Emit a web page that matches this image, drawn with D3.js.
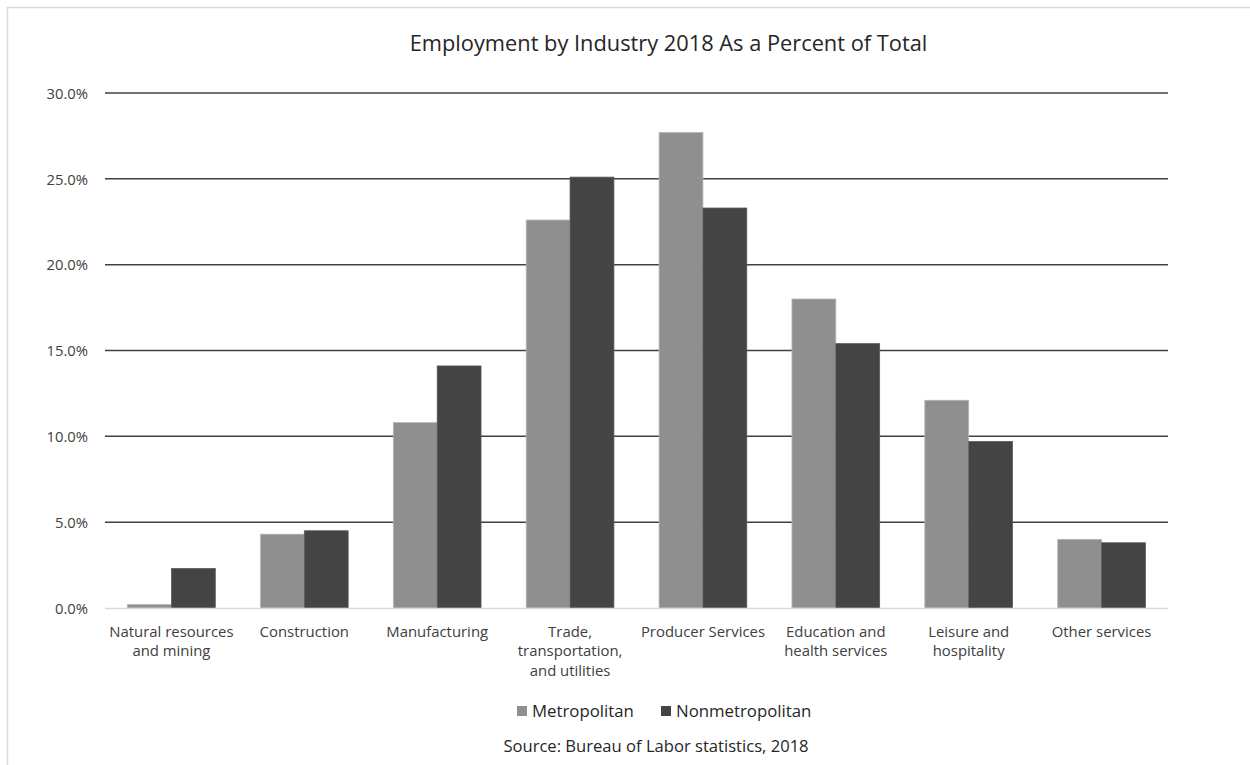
<!DOCTYPE html>
<html>
<head>
<meta charset="utf-8">
<script src="https://cdn.jsdelivr.net/npm/d3@7"></script>
<style>
  body { margin: 0; background: #fff; }
  svg { display: block; font-family: "Open Sans", Lato, sans-serif; }
</style>
</head>
<body>
<svg id="chart" width="1250" height="765"></svg>
<script>
const categories = [
  "Natural resources\nand mining",
  "Construction",
  "Manufacturing",
  "Trade,\ntransportation,\nand utilities",
  "Producer Services",
  "Education and\nhealth services",
  "Leisure and\nhospitality",
  "Other services"
];
const seriesNames = ["Metropolitan", "Nonmetropolitan"];
const metropolitan = [0.2, 4.3, 10.8, 22.6, 27.7, 18.0, 12.1, 4.0];
const nonmetropolitan = [2.3, 4.5, 14.1, 25.1, 23.3, 15.4, 9.7, 3.8];
const yTicks = [0, 5, 10, 15, 20, 25, 30];
const titleText = "Employment by Industry 2018 As a Percent of Total";
const sourceText = "Source: Bureau of Labor statistics, 2018";
const colors = ["#8f8f8f", "#444444"];

const svg = d3.select("#chart");

// outer border
svg.append("rect").attr("x", 7.5).attr("y", 7.5).attr("width", 1300).attr("height", 900)
  .attr("fill", "none").attr("stroke", "#d9d9d9").attr("stroke-width", 1.5);

const plotLeft = 105, plotRight = 1168, plotTop = 93, plotBottom = 608;

const x0 = d3.scaleBand().domain(d3.range(categories.length)).range([plotLeft, plotRight]).paddingInner(0.34).paddingOuter(0.17);
const x1 = d3.scaleBand().domain([0, 1]).range([0, x0.bandwidth()]);
const y = d3.scaleLinear().domain([0, 30]).range([plotBottom, plotTop]);

// gridlines
svg.append("g").selectAll("line").data(yTicks.filter(d => d > 0)).join("line")
  .attr("x1", plotLeft).attr("x2", plotRight)
  .attr("y1", d => y(d)).attr("y2", d => y(d))
  .attr("stroke", "#404040").attr("stroke-width", 1.5);

// y-axis labels
const yAxis = d3.axisLeft(y).tickValues(yTicks).tickFormat(d => d3.format(".1f")(d) + "%").tickSize(0).tickPadding(17);
const yg = svg.append("g").attr("transform", `translate(${plotLeft},0)`).call(yAxis);
yg.select(".domain").remove();
yg.selectAll("text").attr("font-size", 14.8).attr("fill", "#404040")
  .attr("font-family", "'Open Sans', sans-serif").attr("dy", "0.36em");

// bars
const data = categories.map((c, i) => ({ i, vals: [metropolitan[i], nonmetropolitan[i]] }));
const groups = svg.append("g").selectAll("g").data(data).join("g")
  .attr("transform", d => `translate(${x0(d.i)},0)`);
groups.selectAll("rect").data(d => d.vals.map((v, s) => ({ v, s }))).join("rect")
  .attr("x", d => x1(d.s))
  .attr("y", d => y(d.v))
  .attr("width", x1.bandwidth())
  .attr("height", d => y(0) - y(d.v))
  .attr("fill", d => colors[d.s])
  .attr("stroke", d => d.s === 0 ? "#b5b5b5" : "#5a5a5a")
  .attr("stroke-width", 0.8);

// baseline
svg.append("line").attr("x1", plotLeft).attr("x2", plotRight).attr("y1", plotBottom + 0.5).attr("y2", plotBottom + 0.5)
  .attr("stroke", "#d9d9d9").attr("stroke-width", 1.5);

// x labels
const xl = svg.append("g").selectAll("text").data(categories).join("text")
  .attr("x", (d, i) => x0(i) + x0.bandwidth() / 2)
  .attr("y", 637)
  .attr("text-anchor", "middle")
  .attr("font-size", 14.9)
  .attr("fill", "#404040");
xl.each(function(d) {
  const t = d3.select(this);
  d.split("\n").forEach((line, k) => {
    t.append("tspan").attr("x", t.attr("x")).attr("dy", k === 0 ? 0 : 19.3).text(line);
  });
});

// title
svg.append("text").attr("x", 668.5).attr("y", 51).attr("text-anchor", "middle")
  .attr("font-size", 21.8).attr("fill", "#262626").text(titleText);

// legend
const legendItems = [{ name: seriesNames[0], x: 517, c: colors[0] }, { name: seriesNames[1], x: 661, c: colors[1] }];
const lg = svg.append("g");
legendItems.forEach(it => {
  lg.append("rect").attr("x", it.x).attr("y", 706).attr("width", 10).attr("height", 10).attr("fill", it.c);
  lg.append("text").attr("x", it.x + 15).attr("y", 717).attr("font-size", 16.8).attr("fill", "#262626").text(it.name);
});

// source
svg.append("text").attr("x", 656).attr("y", 752).attr("text-anchor", "middle")
  .attr("font-size", 16.6).attr("fill", "#262626").text(sourceText);
</script>
</body>
</html>
